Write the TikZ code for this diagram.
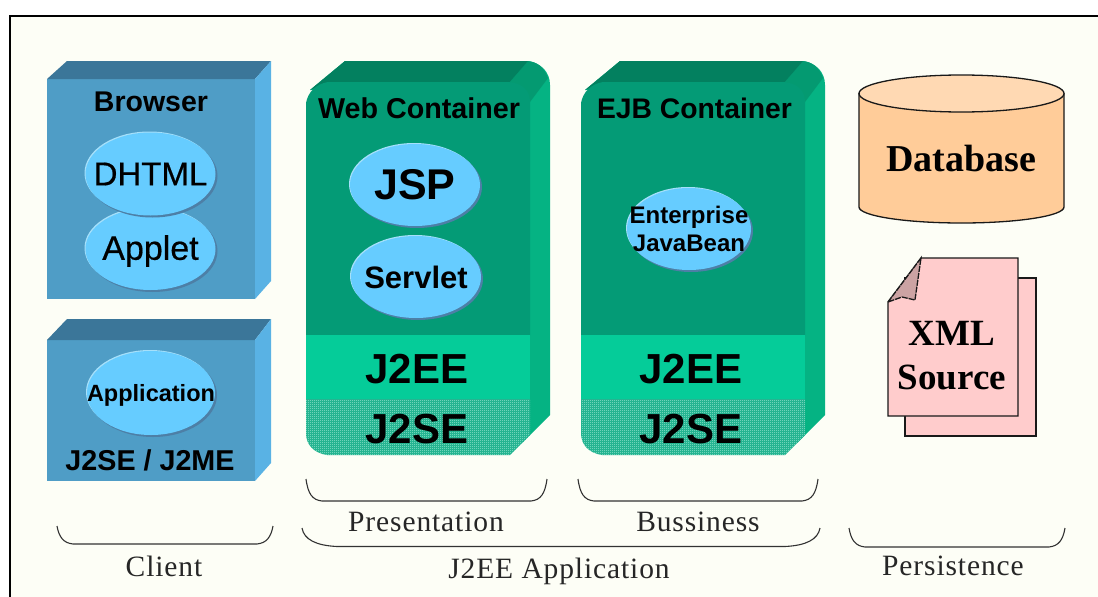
\documentclass[tikz,border=0pt]{standalone}
\usepackage{fontspec}
\setmainfont{Liberation Serif}
\setsansfont{Liberation Sans}
\usetikzlibrary{patterns}
\pgfdeclarepatternformonly{ditherpat}{\pgfqpoint{0pt}{0pt}}{\pgfqpoint{2pt}{2pt}}{\pgfqpoint{2pt}{2pt}}{%
  \pgfpathrectangle{\pgfqpoint{0pt}{0pt}}{\pgfqpoint{1pt}{1pt}}%
  \pgfpathrectangle{\pgfqpoint{1pt}{1pt}}{\pgfqpoint{1pt}{1pt}}%
  \pgfusepath{fill}}
\definecolor{pagebg}{HTML}{FDFEF6}
\definecolor{bluefront}{HTML}{4F9DC6}
\definecolor{bluetop}{HTML}{3B7699}
\definecolor{blueside}{HTML}{59B2E4}
\definecolor{ovalfill}{HTML}{66CCFF}
\definecolor{ovallight}{HTML}{A6E0FA}
\definecolor{ovalshade}{HTML}{4D7FA6}
\definecolor{greenfront}{HTML}{049B76}
\definecolor{greentop}{HTML}{03805F}
\definecolor{greencorner}{HTML}{049A71}
\definecolor{greenside}{HTML}{05B383}
\definecolor{greenmid}{HTML}{05CC99}
\definecolor{greenlow}{HTML}{14AD88}
\definecolor{greendot}{HTML}{A0EAD6}
\definecolor{dbfill}{HTML}{FFCC99}
\definecolor{dbtop}{HTML}{FFD9B3}
\definecolor{docfill}{HTML}{FFCCCC}
\definecolor{docfold}{HTML}{CCA3A3}
\tikzset{
  heading/.style={text=black,inner sep=0pt},
  labeltext/.style={inner sep=0pt,text=black!85},
  brace/.style={draw=black!80,line width=1.1pt},
  outline/.style={draw=black!90,line width=1.3pt}
}
\newcommand{\sansb}[1]{\sffamily\bfseries\fontsize{#1}{#1}\selectfont}
\newcommand{\sansbtwo}{\sffamily\bfseries\fontsize{24}{28}\selectfont}
\newcommand{\sansm}[1]{\sffamily\fontsize{#1}{#1}\selectfont\addfontfeature{FakeBold=0.5}}
\newcommand{\serifb}[2]{\rmfamily\bfseries\fontsize{#1}{#2}\selectfont}
\newcommand{\serifl}[1]{\rmfamily\fontsize{#1}{#1}\selectfont\addfontfeature{LetterSpace=3}}
\newcommand{\ovalat}[7]{% name,x,y,rx,ry,node options,text
  \fill[ovallight] (#2-1,#3-1) ellipse [x radius=#4,y radius=#5];
  \fill[ovalshade] (#2+2,#3+2) ellipse [x radius=#4,y radius=#5];
  \fill[ovalfill] (#2,#3) ellipse [x radius=#4,y radius=#5];
  \node[heading,align=center,#6] (#1) at (#2,#3) {#7};}
\newcommand{\bracket}[6]{% name,x1,x2,ytop,ybottom,curve width
  \coordinate (#1a) at (#2,#4); \coordinate (#1b) at (#3,#4);
  \draw[brace] (#1a) .. controls (#2+2,#5-7) and (#2+#6*0.4,#5-1) .. (#2+#6,#5) -- (#3-#6,#5) .. controls (#3-#6*0.4,#5-1) and (#3-2,#5-7) .. (#1b);}
\newcommand{\container}[1]{%
  \begin{scope}[xshift=#1]
  \fill[greenside] (310,90) -- (345,61) -- (528,61) .. controls (541,63) and (550,72) .. (550,85) -- (550,415) -- (522,443) -- (510,440) -- (510,90) -- cycle;
  \fill[greencorner] (528,61) .. controls (537,62) and (544,67) .. (548,78) -- (530,102) -- (508,84) -- cycle;
  \fill[greentop] (310,90) -- (345,61) -- (528,61) -- (508,84) -- (325,84) -- cycle;
  \fill[greenfront] (306,335) -- (306,103) .. controls (308,92) and (316,84) .. (328,82) -- (508,82) .. controls (522,83) and (530,90) .. (530,102) -- (530,335) -- cycle;
  \fill[greenmid] (306,335) rectangle (530,399);
  \fill[greenlow] (306,399) -- (530,399) -- (530,435) -- (510,455) -- (327,455) .. controls (314,453) and (306,445) .. (306,433) -- cycle;
  \fill[pattern=ditherpat,pattern color=greendot] (306,399) -- (530,399) -- (530,435) -- (510,455) -- (327,455) .. controls (314,453) and (306,445) .. (306,433) -- cycle;
  \end{scope}}
\begin{document}
\begin{tikzpicture}[x=1pt,y=-1pt]
\useasboundingbox (0,0) rectangle (1098,597);
\fill[white] (0,0) rectangle (1098,597);
\fill[pagebg] (10,16) rectangle (1098,597);
\draw[black,line width=1.6pt] (10,597) -- (10,16) -- (1098,16);
% Browser
\fill[bluefront] (47,79) rectangle (255,299);
\fill[bluetop] (47,79) -- (67,61) -- (271,61) -- (255,79) -- cycle;
\fill[blueside] (255,79) -- (271,61) -- (271,281) -- (255,299) -- cycle;
\node[heading,font=\sansb{28.5}] (browser) at (151,102) {Browser};
\ovalat{applet}{150.5}{249}{65}{41}{font=\sansm{34},yshift=-2pt}{Applet}
\ovalat{dhtml}{150.5}{174}{65}{41.5}{font=\sansm{33}}{DHTML}
% Application
\fill[bluefront] (47,340) rectangle (255,481);
\fill[bluetop] (47,340) -- (67,319) -- (271,319) -- (255,340) -- cycle;
\fill[blueside] (255,340) -- (271,319) -- (271,463) -- (255,481) -- cycle;
\ovalat{application}{151}{393}{64}{42}{font=\sansb{23.5},yshift=-2pt}{Application}
\node[heading,font=\sansb{28.7}] (j2me) at (150,460) {J2SE / J2ME};
% Web container
\container{0pt}
\node[heading,font=\sansb{28.7}] (web) at (419,108) {Web Container};
\ovalat{jsp}{415}{185}{65}{41}{font=\sansb{43}}{JSP}
\ovalat{servlet}{416}{277}{65}{41}{font=\sansb{31}}{Servlet}
\node[heading,font=\sansb{42}] (j2eeA) at (417,369) {J2EE};
\node[heading,font=\sansb{42}] (j2seA) at (417,429) {J2SE};
% EJB container
\container{275pt}
\node[heading,font=\sansb{28.3}] (ejb) at (694.5,108) {EJB Container};
\ovalat{bean}{689}{229}{62}{41}{font=\sansbtwo}{Enterprise\\JavaBean}
\node[heading,font=\sansb{42}] (j2eeB) at (691,369) {J2EE};
\node[heading,font=\sansb{42}] (j2seB) at (691,429) {J2SE};
% Database
\draw[outline,fill=dbfill] (859,93.5) -- (859,207) arc [start angle=180,end angle=0,x radius=102.5,y radius=16] -- (1064,93.5) -- cycle;
\draw[outline,fill=dbtop] (961.5,93.5) ellipse [x radius=102.5,y radius=18.5];
\node[font=\serifb{38}{38},inner sep=0pt] (db) at (961,159) {Database};
% XML
\draw[outline,fill=docfill] (905,278) rectangle (1036,436);
\draw[outline,fill=docfill] (888,302) -- (921,258) -- (1018,258) -- (1018,416) -- (888,416) -- cycle;
\draw[outline,fill=docfold,dash pattern=on 6pt off 1pt] (888,302) -- (921,258) -- (915,300) -- (902,297) -- cycle;
\node[font=\serifb{37}{44},align=center,inner sep=0pt] (xml) at (952,356) {XML\\Source};
% Brackets
\bracket{client}{57}{273}{526}{544}{16}
\bracket{pres}{306}{547}{479}{501}{16}
\bracket{buss}{578}{818}{479}{501}{16}
\bracket{app}{302}{820}{528}{546.5}{35}
\bracket{pers}{849}{1065}{528}{547}{16}
\node[labeltext,font=\serifl{29.5}] (clientL) at (164,566) {Client};
\node[labeltext,font=\serifl{29.5}] (presL) at (426,522) {Presentation};
\node[labeltext,font=\serifl{29.5}] (bussL) at (698,522) {Bussiness};
\node[labeltext,font=\serifl{29.5}] (appL) at (559,571) {J2EE Application};
\node[labeltext,font=\serifl{29.5}] (persL) at (953,566) {Persistence};
\end{tikzpicture}
\end{document}
